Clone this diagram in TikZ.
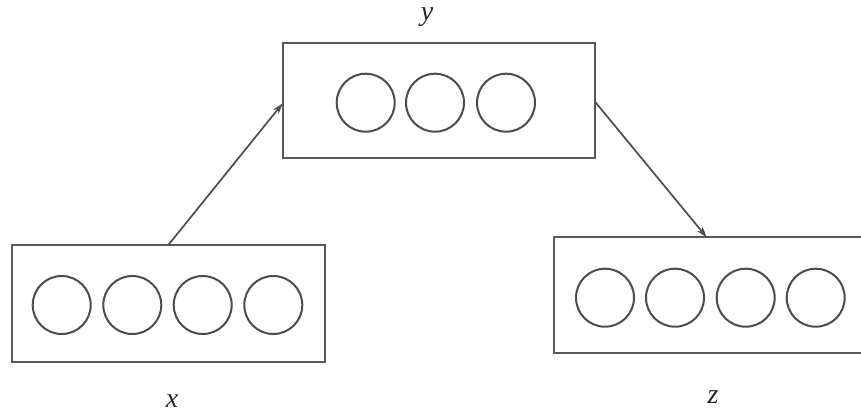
\documentclass[tikz,border=0pt]{standalone}
\usepackage{fontspec}
\setmainfont{Liberation Serif}
\usetikzlibrary{arrows.meta}
\begin{document}
\begin{tikzpicture}[x=1pt,y=-1pt,
  layerbox/.style={draw=black!65,line width=2.2pt,fill=white},
  unit/.style={circle,draw=black!70,line width=2pt,minimum size=58pt,inner sep=0pt},
  link/.style={draw=black!70,line width=1.7pt,-{Stealth[length=11pt,width=7pt]}},
  varlabel/.style={font=\fontsize{28}{30}\selectfont\itshape,text=black!85}]
\useasboundingbox (0,0) rectangle (861,418);
\clip (0,0) rectangle (861,418);
% layer boxes
\draw[layerbox] (282.7,43.3) rectangle (595,158.3);
\draw[layerbox] (11.7,245) rectangle (325,361.7);
\draw[layerbox] (554,237.3) rectangle (867,353.3);
% units of the hidden layer y
\node[unit] (y1) at (365.7,102.7) {};
\node[unit] (y2) at (435,102.7) {};
\node[unit] (y3) at (506,102.7) {};
% units of the input layer x
\node[unit] (x1) at (61.7,305) {};
\node[unit] (x2) at (132.3,305) {};
\node[unit] (x3) at (202.7,305) {};
\node[unit] (x4) at (273.3,305) {};
% units of the output layer z
\node[unit] (z1) at (605,297.7) {};
\node[unit] (z2) at (675,297.7) {};
\node[unit] (z3) at (745.7,297.7) {};
\node[unit] (z4) at (815.7,297.7) {};
% connector end points on the box borders
\coordinate (xout) at (168.3,245);
\coordinate (yin) at (282.7,103.3);
\coordinate (yout) at (595,101.7);
\coordinate (zin) at (706.7,237.3);
\draw[link] (xout) -- (yin);
\draw[link] (yout) -- (zin);
% layer names
\node[varlabel] (ylab) at (427,17) {y};
\node[varlabel] (xlab) at (172,401) {x};
\node[varlabel] (zlab) at (713,397) {z};
\end{tikzpicture}
\end{document}
